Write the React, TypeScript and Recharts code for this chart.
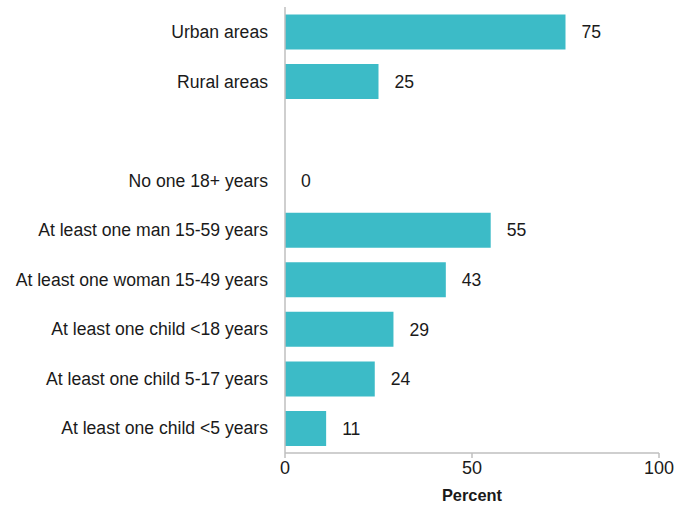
import React from 'react';
import { BarChart, Bar, XAxis, YAxis, LabelList } from 'recharts';

const categories = [
  'Urban areas',
  'Rural areas',
  ' ',
  'No one 18+ years',
  'At least one man 15-59 years',
  'At least one woman 15-49 years',
  'At least one child <18 years',
  'At least one child 5-17 years',
  'At least one child <5 years',
];
const percents: (number | null)[] = [75, 25, null, 0, 55, 43, 29, 24, 11];
const xTicks = [0, 50, 100];

const data = categories.map((name, i) => ({ name, value: percents[i] }));

const FONT = '"Liberation Sans", Arial, sans-serif';
const TEXT = '#1a1a1a';
const AXIS = '#bfbfbf';

export default function App() {
  return (
    <div style={{ position: 'absolute', left: 0, top: 0, width: 692, height: 510, background: '#fff' }}>
      <BarChart
        width={692}
        height={510}
        data={data}
        layout="vertical"
        margin={{ top: 7, right: 33, bottom: 27, left: 0 }}
        barCategoryGap={7.5}
      >
        <XAxis
          type="number"
          domain={[0, 100]}
          ticks={xTicks}
          axisLine={{ stroke: AXIS, strokeWidth: 1.5 }}
          tickLine={{ stroke: AXIS, strokeWidth: 1.5 }}
          tickSize={5}
          tickMargin={3}
          tick={{ fill: TEXT, fontSize: 18, fontFamily: FONT }}
          label={{ value: 'Percent', position: 'insideBottom', offset: -18, style: { fill: TEXT, fontSize: 16.4, fontWeight: 'bold', fontFamily: FONT } } as any}
        />
        <YAxis
          type="category"
          dataKey="name"
          width={285}
          interval={0}
          axisLine={{ stroke: AXIS, strokeWidth: 1.5 }}
          tickLine={false}
          tickMargin={11}
          tick={{ fill: TEXT, fontSize: 17.6, fontFamily: FONT }}
        />
        <Bar
          dataKey="value"
          fill="#3cbbc7"
          isAnimationActive={false}
          minPointSize={(v: any) => (v === 0 ? 0.01 : 0)}
        >
          <LabelList
            dataKey="value"
            position="right"
            offset={16}
            formatter={(v: any) => (v === null || v === undefined ? '' : String(v))}
            style={{ fill: TEXT, fontSize: 17.6, fontFamily: FONT }}
          />
        </Bar>
      </BarChart>
    </div>
  );
}
